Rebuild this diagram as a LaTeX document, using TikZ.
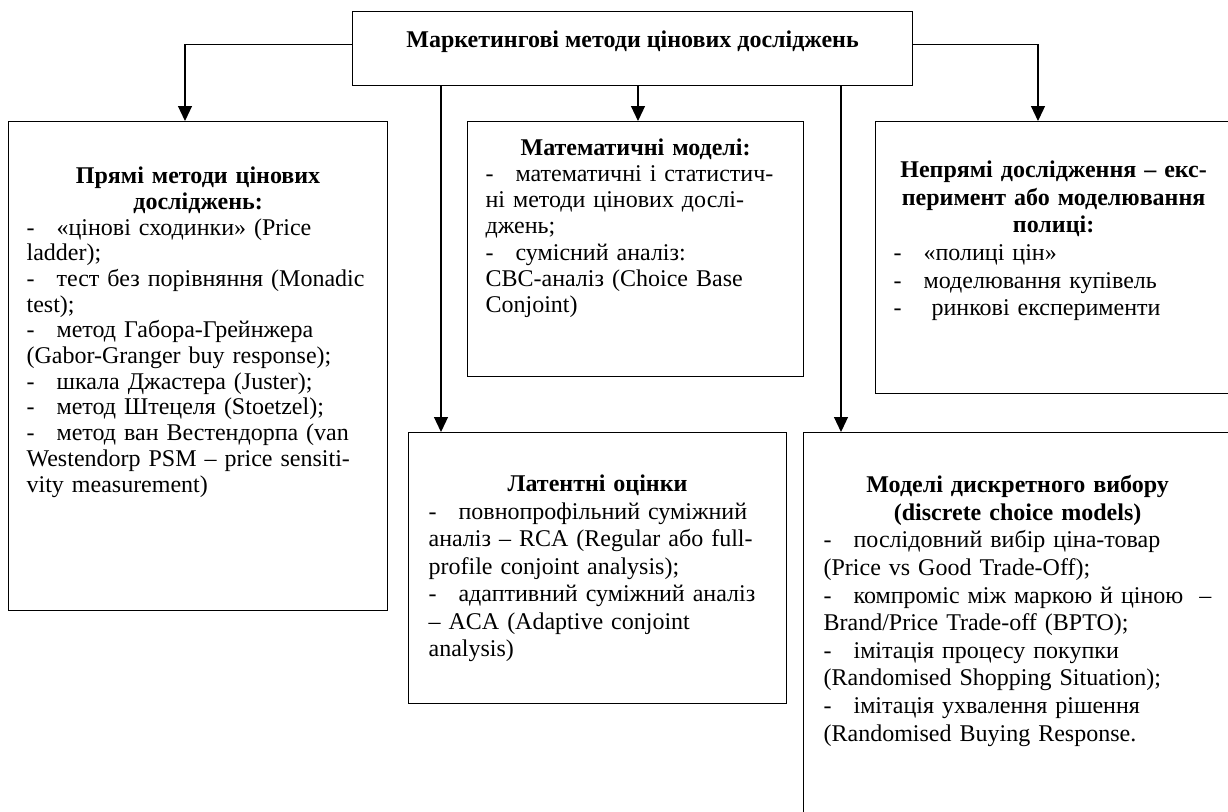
\documentclass[tikz,border=0pt]{standalone}
\usepackage{fontspec}
\setmainfont{Liberation Serif}
\usetikzlibrary{positioning,arrows.meta}

\tikzset{
  block/.style={draw, line width=1.2pt, inner ysep=0pt, anchor=north west, align=left},
  arr/.style={line width=1.2pt, -{Triangle[length=15pt,width=14pt]}}
}
\newcommand{\boxtitle}[1]{{\centering\bfseries #1\par}}
\newcommand{\itemdash}{\makebox[30pt][l]{-}}

\begin{document}
\begin{tikzpicture}[x=1pt,y=-1pt]
	\useasboundingbox (0,0) rectangle (1228,811);
	\clip (0,0) rectangle (1228,811);
	\node[block, minimum width=560pt, inner xsep=0pt, text height=36pt, text depth=38pt,
		font=\fontsize{24}{25.7}\selectfont\bfseries] (top) at (352,11)
		{Маркетингові методи цінових досліджень};
	\node[block, text width=343pt, inner xsep=18pt, text height=62pt, text depth=427pt,
		font=\fontsize{24}{25.7}\selectfont] (left) at (8,121)
		{\boxtitle{Прямі методи цінових\\досліджень:}
		\itemdash«цінові сходинки» (Price\\
		ladder);\\
		\itemdash тест без порівняння (Monadic\\
		test);\\
		\itemdash метод Габора-Грейнжера\\
		(Gabor-Granger buy response);\\
		\itemdash шкала Джастера (Juster);\\
		\itemdash метод Штецеля (Stoetzel);\\
		\itemdash метод ван Вестендорпа (van\\
		Westendorp PSM – price sensiti-\\
		vity measurement)};
	\node[block, text width=300pt, inner xsep=18pt, text height=34pt, text depth=221pt,
		font=\fontsize{24}{26.1}\selectfont] (math) at (467,121)
		{\boxtitle{Математичні моделі:}
		\itemdash математичні і статистич-\\
		ні методи цінових дослі-\\
		джень;\\
		\itemdash сумісний аналіз:\\
		CBC-аналіз (Choice Base\\
		Conjoint)};
	\node[block, text width=320pt, inner xsep=18pt, text height=56pt, text depth=216pt,
		font=\fontsize{24}{27.6}\selectfont] (right) at (875,121)
		{\boxtitle{Непрямі дослідження – екс-\\перимент або моделювання\\полиці:}
		\itemdash«полиці цін»\\
		\itemdash моделювання купівель\\
		\itemdash\ ринкові експерименти};
	\node[block, text width=338pt, inner xsep=20pt, text height=59pt, text depth=212pt,
		font=\fontsize{24}{27.5}\selectfont] (lat) at (408,432)
		{\boxtitle{Латентні оцінки}
		\itemdash повнопрофільний суміжний\\
		аналіз – RCA (Regular або full-\\
		profile conjoint analysis);\\
		\itemdash адаптивний суміжний аналіз\\
		– ACA (Adaptive conjoint\\
		analysis)};
	\node[block, text width=388pt, inner xsep=20pt, text height=60pt, text depth=340pt,
		font=\fontsize{24}{27.6}\selectfont] (disc) at (803,432)
		{\boxtitle{Моделі дискретного вибору\\(discrete choice models)}
		\itemdash послідовний вибір ціна-товар\\
		(Price vs Good Trade-Off);\\
		\itemdash компроміс між маркою й ціною\ \ –\\
		Brand/Price Trade-off (BPTO);\\
		\itemdash імітація процесу покупки\\
		(Randomised Shopping Situation);\\
		\itemdash імітація ухвалення рішення\\
		(Randomised Buying Response.};
	\coordinate (leftin) at ([xshift=177pt]left.north west);
	\coordinate (mathin) at ([xshift=171pt]math.north west);
	\coordinate (rightin) at ([xshift=163pt]right.north west);
	\coordinate (latin) at ([xshift=33pt]lat.north west);
	\coordinate (discin) at ([xshift=38pt]disc.north west);
	\draw[arr] ([yshift=4pt]top.west) -| (leftin);
	\draw[arr] ([yshift=4pt]top.east) -| (rightin);
	\draw[arr] (top.south -| mathin) -- (mathin);
	\draw[arr] (top.south -| latin) -- (latin);
	\draw[arr] (top.south -| discin) -- (discin);
\end{tikzpicture}
\end{document}
